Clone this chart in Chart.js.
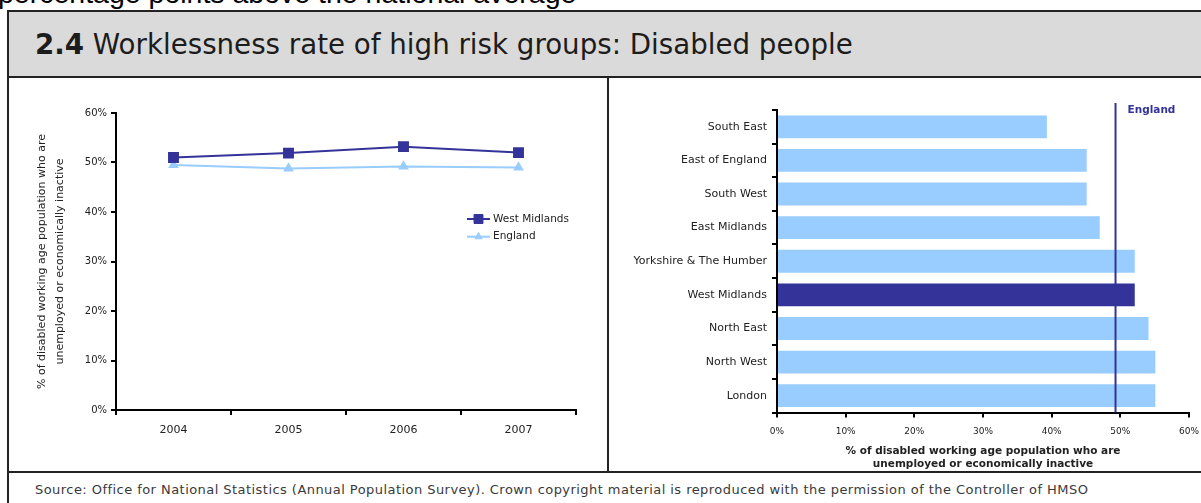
<!DOCTYPE html>
<html>
<head>
<meta charset="utf-8">
<script src="https://cdn.jsdelivr.net/npm/chart.js@4.4.1/dist/chart.umd.min.js"></script>
<style>
  html, body { margin: 0; padding: 0; background: #fff; overflow: hidden; }
  body { width: 1201px; height: 503px; position: relative; font-family: "DejaVu Sans", sans-serif; color: #222; }
  .abs { position: absolute; }
  #lead { left: -2px; top: -21px; font: 28.5px "Liberation Sans", Arial, sans-serif; line-height: 28px; color: #000; white-space: nowrap; }
  #frame { left: 7px; top: 10px; width: 1240px; height: 540px; border-left: 2px solid #222; border-top: 2px solid #222; box-sizing: border-box; }
  #band { left: 9px; top: 12px; width: 1200px; height: 64px; background: #dadada; }
  #titleText { left: 35px; top: 29px; font-size: 27.7px; line-height: 32px; white-space: nowrap; color: #1c1c1c; }
  #titleText b { font-weight: bold; }
  .hline { height: 2px; background: #222; left: 9px; width: 1200px; }
  #vline { left: 607px; top: 78px; width: 2px; height: 393px; background: #222; }
  #leftBox { left: 9px; top: 78px; width: 598px; height: 393px; }
  #rightBox { left: 609px; top: 78px; width: 592px; height: 393px; }
  #source { left: 35px; top: 482px; font-size: 13px; letter-spacing: 0.45px; line-height: 16px; white-space: nowrap; color: #3a3a3a; }
</style>
</head>
<body>
<div id="lead" class="abs">percentage points above the national average</div>
<div id="frame" class="abs"></div>
<div id="band" class="abs"></div>
<div id="titleText" class="abs"><b>2.4</b> Worklessness rate of high risk groups: Disabled people</div>
<div class="abs hline" style="top:76px"></div>
<div class="abs hline" style="top:471px"></div>
<div id="vline" class="abs"></div>
<div id="leftBox" class="abs"><canvas id="trend"></canvas></div>
<div id="rightBox" class="abs"><canvas id="regions"></canvas></div>
<div id="source" class="abs">Source: Office for National Statistics (Annual Population Survey). Crown copyright material is reproduced with the permission of the Controller of HMSO</div>

<script>
// ---- data ----
const years = ['2004', '2005', '2006', '2007'];
const westMidlandsTrend = [51.0, 51.9, 53.2, 52.0];
const englandTrend = [49.5, 48.8, 49.2, 49.0];

const regionNames = ['South East', 'East of England', 'South West', 'East Midlands',
  'Yorkshire & The Humber', 'West Midlands', 'North East', 'North West', 'London'];
const regionRates = [39.3, 45.1, 45.1, 47.0, 52.1, 52.1, 54.1, 55.1, 55.1];
const englandAverage = 49.3;

const pctTicks = [0, 10, 20, 30, 40, 50, 60];
const axisTitleLines = ['% of disabled working age population who are', 'unemployed or economically inactive'];

// ---- styling ----
const DARK = '#333399';
const LIGHT = '#99ccff';
const INK = '#222';
const FONT = '"DejaVu Sans", sans-serif';

Chart.defaults.font.family = FONT;
Chart.defaults.color = INK;
Chart.defaults.animation = false;

// Legend drawn inside the plot area, to the right
const insideLegend = {
  id: 'insideLegend',
  afterDraw(chart, args, opts) {
    const ctx = chart.ctx;
    ctx.save();
    chart.data.datasets.forEach((ds, i) => {
      const y = opts.y + i * opts.rowGap;
      ctx.strokeStyle = ds.borderColor;
      ctx.lineWidth = ds.borderWidth;
      ctx.beginPath();
      ctx.moveTo(opts.x, y);
      ctx.lineTo(opts.x + opts.lineLen, y);
      ctx.stroke();
      ctx.fillStyle = ds.pointBackgroundColor;
      ctx.strokeStyle = ds.pointBorderColor;
      ctx.lineWidth = 1;
      Chart.helpers.drawPoint(ctx, { pointStyle: ds.pointStyle, radius: ds.pointRadius, rotation: 0, borderWidth: 1 },
        opts.x + opts.lineLen / 2, y);
      ctx.fillStyle = INK;
      ctx.font = opts.font;
      ctx.textBaseline = 'middle';
      ctx.textAlign = 'left';
      ctx.fillText(ds.label, opts.x + opts.lineLen + 3, y);
    });
    ctx.restore();
  }
};

// Vertical national-average marker on the regional bar chart
const averageLine = {
  id: 'averageLine',
  afterDatasetsDraw(chart, args, opts) {
    const { ctx, chartArea } = chart;
    const x = chart.scales.x.getPixelForValue(opts.value);
    ctx.save();
    ctx.strokeStyle = opts.color;
    ctx.lineWidth = 2;
    ctx.beginPath();
    ctx.moveTo(x, chartArea.top - 7);
    ctx.lineTo(x, chartArea.bottom);
    ctx.stroke();
    ctx.fillStyle = opts.color;
    ctx.font = 'bold 10.5px ' + FONT;
    ctx.textBaseline = 'middle';
    ctx.textAlign = 'left';
    ctx.fillText(opts.label, x + 12, chartArea.top);
    ctx.restore();
  }
};

const axisBorder = { display: true, color: '#000', width: 2 };
const tickGrid = { display: true, drawOnChartArea: false, drawTicks: true, tickLength: 5, color: '#000', lineWidth: 2 };

// fixed axis boxes so the plot areas sit where the frame expects them
function fixHeight(h) {
  return s => { s.height = h; s.paddingLeft = 0; s.paddingRight = 0; };
}
function fixWidth(w) {
  return s => { s.width = w; s.paddingTop = 0; s.paddingBottom = 0; };
}

new Chart(document.getElementById('trend'), {
  type: 'line',
  data: {
    labels: years,
    datasets: [
      {
        label: 'West Midlands', data: westMidlandsTrend,
        borderColor: DARK, borderWidth: 2,
        pointStyle: 'rect', pointRadius: 6.3, pointBackgroundColor: DARK, pointBorderColor: DARK
      },
      {
        label: 'England', data: englandTrend,
        borderColor: LIGHT, borderWidth: 2,
        pointStyle: 'triangle', pointRadius: 4.2, pointBackgroundColor: LIGHT, pointBorderColor: LIGHT
      }
    ]
  },
  options: {
    responsive: true,
    maintainAspectRatio: false,
    layout: { padding: { top: 35, right: 31, left: 0, bottom: 0 } },
    plugins: {
      legend: { display: false },
      tooltip: { enabled: false },
      insideLegend: { x: 458, y: 141, rowGap: 17.7, lineLen: 23, font: '10.5px ' + FONT }
    },
    scales: {
      x: {
        offset: true,
        grid: { ...tickGrid, offset: true },
        border: axisBorder,
        ticks: { font: { size: 11 }, padding: 9, maxRotation: 0 },
        afterFit: fixHeight(61)
      },
      y: {
        min: 0, max: 60,
        afterBuildTicks(s) { s.ticks = pctTicks.map(v => ({ value: v })); },
        grid: tickGrid,
        border: axisBorder,
        ticks: { font: { size: 10 }, padding: 4, callback: v => v + '%' },
        title: {
          display: true, text: axisTitleLines, color: INK,
          font: { size: 11, lineHeight: 18 / 11 }, padding: { top: 24, bottom: 0 }
        },
        afterFit: fixWidth(107)
      }
    }
  },
  plugins: [insideLegend]
});

new Chart(document.getElementById('regions'), {
  type: 'bar',
  data: {
    labels: regionNames,
    datasets: [{
      data: regionRates,
      backgroundColor: regionNames.map(n => n === 'West Midlands' ? DARK : LIGHT),
      borderWidth: 0,
      barPercentage: 0.68,
      categoryPercentage: 1
    }]
  },
  options: {
    indexAxis: 'y',
    responsive: true,
    maintainAspectRatio: false,
    layout: { padding: { top: 32, right: 12, left: 0, bottom: 0 } },
    plugins: {
      legend: { display: false },
      tooltip: { enabled: false },
      averageLine: { value: englandAverage, label: 'England', color: DARK }
    },
    scales: {
      x: {
        min: 0, max: 60,
        afterBuildTicks(s) { s.ticks = pctTicks.map(v => ({ value: v })); },
        grid: tickGrid,
        border: axisBorder,
        ticks: { font: { size: 9 }, padding: 9, callback: v => v + '%' },
        title: {
          display: true, text: axisTitleLines, color: INK,
          font: { size: 10.5, weight: 'bold', lineHeight: 1.25 }, padding: { top: 0, bottom: 0 }
        },
        afterFit: fixHeight(58.5)
      },
      y: {
        offset: true,
        grid: { ...tickGrid, offset: true },
        border: axisBorder,
        ticks: { font: { size: 11 }, padding: 5 },
        afterFit: fixWidth(168)
      }
    }
  },
  plugins: [averageLine]
});
</script>
</body>
</html>
